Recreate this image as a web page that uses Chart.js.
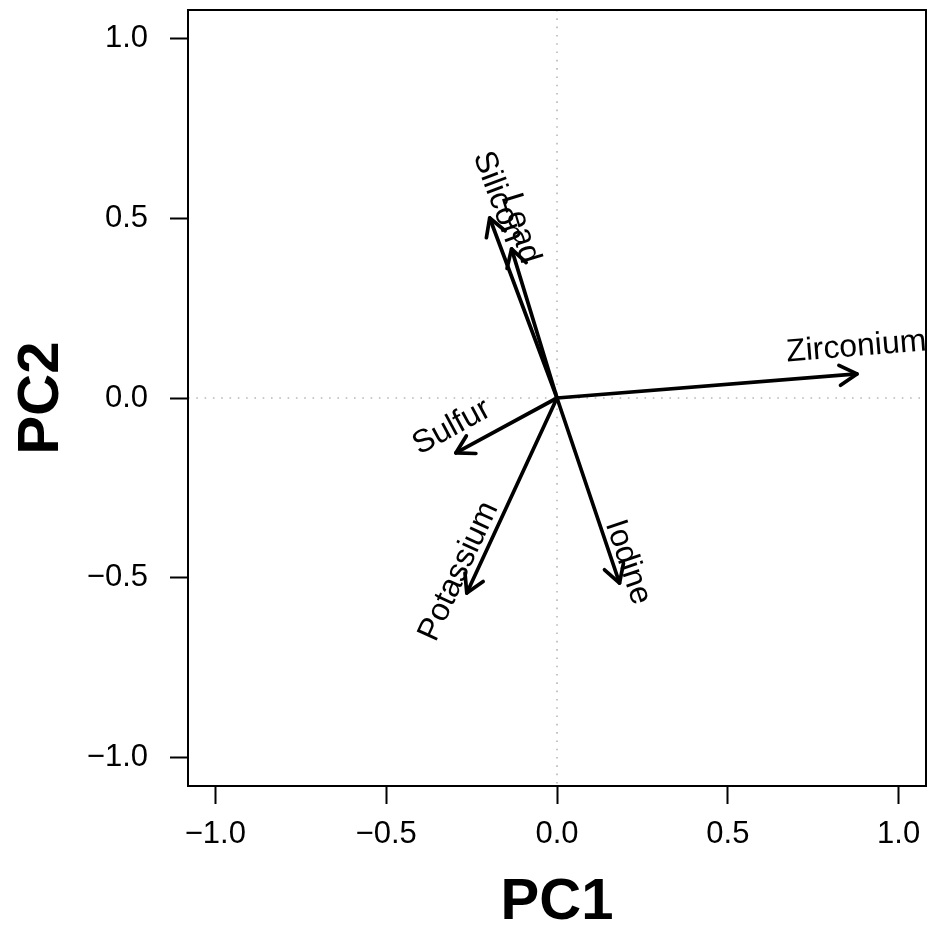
<!DOCTYPE html>
<html>
<head>
<meta charset="utf-8">
<script src="https://cdn.jsdelivr.net/npm/chart.js@4.4.0/dist/chart.umd.min.js"></script>
<style>
  html, body { margin: 0; padding: 0; background: #fff; }
</style>
</head>
<body>
<canvas id="biplot" width="929" height="932"></canvas>
<script>
// variable loadings on the first two components
const variables = ['Zirconium', 'Silicon', 'Lead', 'Sulfur', 'Potassium', 'Iodine'];
const pc1 = [0.878, -0.197, -0.133, -0.296, -0.264, 0.183];
const pc2 = [0.067, 0.501, 0.415, -0.153, -0.543, -0.515];
const axisTicks = [-1.0, -0.5, 0.0, 0.5, 1.0];
const axisLimit = 1.08;

const FONT = '"Liberation Sans", Arial, Helvetica, sans-serif';
Chart.defaults.color = '#000';
Chart.defaults.font.family = FONT;

const fmt = v => (v < 0 ? '\u2212' : '') + Math.abs(v).toFixed(1);

// dotted zero lines, arrow heads, rotated labels and the box
const biplotDecor = {
  id: 'biplotDecor',
  beforeDatasetsDraw(chart) {
    const { ctx, chartArea: a, scales: { x, y } } = chart;
    const x0 = x.getPixelForValue(0), y0 = y.getPixelForValue(0);
    ctx.save();
    ctx.strokeStyle = '#b8b8b8';
    ctx.lineWidth = 1.6;
    ctx.setLineDash([1.6, 6.7]);
    ctx.beginPath();
    ctx.moveTo(a.left, y0); ctx.lineTo(a.right, y0);
    ctx.moveTo(x0, a.top); ctx.lineTo(x0, a.bottom);
    ctx.stroke();
    ctx.restore();
  },
  afterDatasetsDraw(chart) {
    const ctx = chart.ctx;
    ctx.save();
    chart.data.datasets.forEach((ds, i) => {
      const pts = chart.getDatasetMeta(i).data;
      const base = pts[0], tip = pts[1];
      const ang = Math.atan2(tip.y - base.y, tip.x - base.x);
      // head
      const len = 20, spread = Math.PI / 6;
      ctx.strokeStyle = '#000';
      ctx.lineWidth = 3.7;
      ctx.lineCap = 'round';
      ctx.lineJoin = 'round';
      ctx.beginPath();
      ctx.moveTo(tip.x - len * Math.cos(ang - spread), tip.y - len * Math.sin(ang - spread));
      ctx.lineTo(tip.x, tip.y);
      ctx.lineTo(tip.x - len * Math.cos(ang + spread), tip.y - len * Math.sin(ang + spread));
      ctx.stroke();
      // label along the arrow, kept readable
      let rot = ang;
      if (rot > Math.PI / 2) rot -= Math.PI;
      if (rot < -Math.PI / 2) rot += Math.PI;
      ctx.save();
      ctx.translate(tip.x, tip.y - 18);
      ctx.rotate(rot);
      ctx.fillStyle = '#000';
      ctx.font = '32px ' + FONT;
      ctx.textAlign = 'center';
      ctx.textBaseline = 'alphabetic';
      ctx.fillText(ds.label, 0, 0);
      ctx.restore();
    });
    ctx.restore();
  },
  afterDraw(chart) {
    const { ctx, chartArea: a } = chart;
    ctx.save();
    ctx.strokeStyle = '#000';
    ctx.lineWidth = 2;
    ctx.strokeRect(a.left, a.top, a.right - a.left, a.bottom - a.top);
    ctx.restore();
  }
};

const datasets = variables.map((name, i) => ({
  label: name,
  data: [{ x: 0, y: 0 }, { x: pc1[i], y: pc2[i] }],
  showLine: true,
  borderColor: '#000',
  borderWidth: 3.7,
  borderCapStyle: 'round',
  pointRadius: 0,
  pointHoverRadius: 0
}));

// no extra room for end labels: the limits already leave it
const noEdgePadding = s => {
  s.paddingTop = 0; s.paddingBottom = 0;
  s.paddingLeft = 0; s.paddingRight = 0;
};

const axis = (title, extra) => Object.assign({
  type: 'linear',
  min: -axisLimit,
  max: axisLimit,
  afterBuildTicks: s => { s.ticks = axisTicks.map(v => ({ value: v })); },
  grid: { drawOnChartArea: false, drawTicks: true, tickLength: 18, tickWidth: 2, tickColor: '#000' },
  border: { display: true, color: '#000', width: 2 },
  ticks: { font: { size: 31 }, color: '#000', callback: v => fmt(v), maxRotation: 0 },
  title: { display: true, text: title, color: '#000', font: { size: 58, weight: 'bold', lineHeight: 1 } }
}, extra);

new Chart(document.getElementById('biplot'), {
  type: 'scatter',
  data: { datasets },
  options: {
    responsive: false,
    animation: false,
    layout: { padding: { top: 10, right: 3, bottom: 0, left: 0 } },
    plugins: { legend: { display: false }, tooltip: { enabled: false } },
    scales: {
      x: axis('PC1', {
        position: 'bottom',
        ticks: { font: { size: 31 }, color: '#000', callback: v => fmt(v), maxRotation: 0, padding: 12 },
        title: { display: true, text: 'PC1', color: '#000', padding: { top: 0, bottom: 0 },
                 font: { size: 58, weight: 'bold', lineHeight: 1 } },
        afterFit: s => { s.height = 146; noEdgePadding(s); }
      }),
      y: axis('PC2', {
        position: 'left',
        ticks: { font: { size: 31 }, color: '#000', callback: v => fmt(v), padding: 22 },
        title: { display: true, text: 'PC2', color: '#000', padding: { top: 13, bottom: 0 },
                 font: { size: 58, weight: 'bold', lineHeight: 1 } },
        afterFit: s => { s.width = 188; noEdgePadding(s); }
      })
    }
  },
  plugins: [biplotDecor]
});
</script>
</body>
</html>
